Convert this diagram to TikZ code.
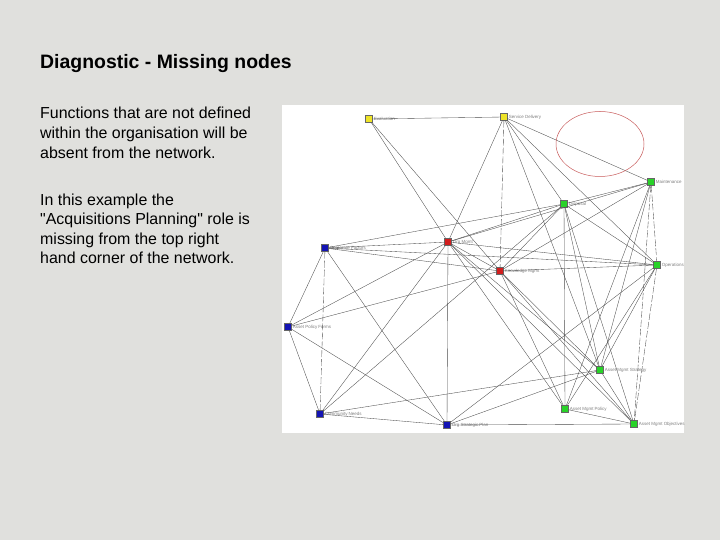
\documentclass[tikz,border=0pt]{standalone}
\usepackage{fontspec}
\setmainfont{Liberation Sans}
\usepackage{xcolor}
\usepackage{tikz}
\usetikzlibrary{shapes.geometric, calc}
\definecolor{slidebg}{RGB}{224,224,221}
\definecolor{roleyel}{RGB}{238,228,40}
\definecolor{rolegrn}{RGB}{40,210,40}
\definecolor{rolered}{RGB}{210,30,30}
\definecolor{roleblu}{RGB}{20,20,180}
\definecolor{gapred}{RGB}{200,90,90}
\tikzstyle{role} = [rectangle, draw=black!60, minimum size=7pt, inner sep=0pt, line width=0.3pt]
\tikzstyle{tag} = [font=\fontsize{4.5}{5}\selectfont, text=gray, inner sep=1pt]
\tikzstyle{link} = [black!70, line width=0.35pt]
\tikzstyle{dlink} = [link, dash pattern=on 7pt off 2pt]
\tikzstyle{bodytext} = [font=\fontsize{16}{19.5}\selectfont, anchor=base west, inner sep=0pt]

\begin{document}
\begin{tikzpicture}[x=1bp, y=-1bp]
  % ---------- slide ----------
  \fill[slidebg] (0,0) rectangle (720,540);
  \useasboundingbox (0,0) rectangle (720,540);
  \node[font=\fontsize{19.5}{22}\selectfont\bfseries, anchor=base west, inner sep=0pt] (title) at (40,68.5) {Diagnostic - Missing nodes};
  % one node per text line
  \foreach \t [count=\i] in {Functions that are not defined, within the organisation will be, absent from the network.}
    \node[bodytext] (parA\i) at (40,{119+19.6*(\i-1)}) {\t};
  \foreach \t [count=\i] in {In this example the, \textquotedbl Acquisitions Planning\textquotedbl{} role is, missing from the top right, hand corner of the network.}
    \node[bodytext] (parB\i) at (40,{205.5+19.3*(\i-1)}) {\t};
  % ---------- network panel ----------
  \fill[white] (282,105) rectangle (684,433);
  % top row (yellow)
  \node[role, fill=roleyel, label={[tag]right:Evaluation}] (eval) at (369,119) {};
  \node[role, fill=roleyel, label={[tag]right:Service Delivery}] (serv) at (504,117) {};
  % green roles
  \node[role, fill=rolegrn, label={[tag]right:Maintenance}] (maint) at (651,182) {};
  \node[role, fill=rolegrn, label={[tag]right:Disposal}] (disp) at (564,204) {};
  \node[role, fill=rolegrn, label={[tag]right:Operations}] (oper) at (657,265) {};
  \node[role, fill=rolegrn, label={[tag]right:Asset Mgmt Strategy}] (strat) at (600,370) {};
  \node[role, fill=rolegrn, label={[tag]right:Asset Mgmt Policy}] (pol) at (565,409) {};
  \node[role, fill=rolegrn, label={[tag]right:Asset Mgmt Objectives}] (obj) at (634,424) {};
  % red roles
  \node[role, fill=rolered, label={[tag]right:Org Mgmt}] (org) at (448,242) {};
  \node[role, fill=rolered, label={[tag]right:Knowledge Mgmt}] (know) at (500,271) {};
  % blue roles
  \node[role, fill=roleblu, label={[tag]right:Corporate Factors}] (corp) at (325,248) {};
  \node[role, fill=roleblu, label={[tag]right:Asset Policy Forms}] (apf) at (288,327) {};
  \node[role, fill=roleblu, label={[tag]right:Community Needs}] (comm) at (320,414) {};
  \node[role, fill=roleblu, label={[tag]right:Org Strategic Plan}] (plan) at (447,425) {};
  % ---------- links ----------
  \foreach \a/\b in {eval/serv, eval/org, eval/know,
      serv/org, serv/disp, serv/maint, serv/oper, serv/strat,
      maint/disp, maint/org, maint/know, maint/strat, maint/pol,
      disp/org, disp/corp, disp/know, disp/oper, disp/pol, disp/obj, disp/strat, disp/comm,
      org/corp, org/know, org/oper, org/apf, org/comm, org/plan, org/strat, org/obj, org/pol,
      corp/know, corp/apf, corp/plan, corp/oper,
      know/oper, know/strat, know/obj, know/pol, know/apf,
      oper/strat, oper/pol, oper/plan,
      apf/comm, apf/plan, comm/plan, comm/strat,
      plan/obj, plan/strat, strat/obj, pol/obj}
    \draw[link] (\a) -- (\b);
  \foreach \a/\b in {serv/know, maint/oper, maint/obj, corp/comm, oper/obj}
    \draw[dlink] (\a) -- (\b);
  % missing role
  \node[ellipse, draw=gapred, line width=0.5pt, minimum width=88bp, minimum height=65bp] (gap) at (600,144) {};
\end{tikzpicture}
\end{document}
